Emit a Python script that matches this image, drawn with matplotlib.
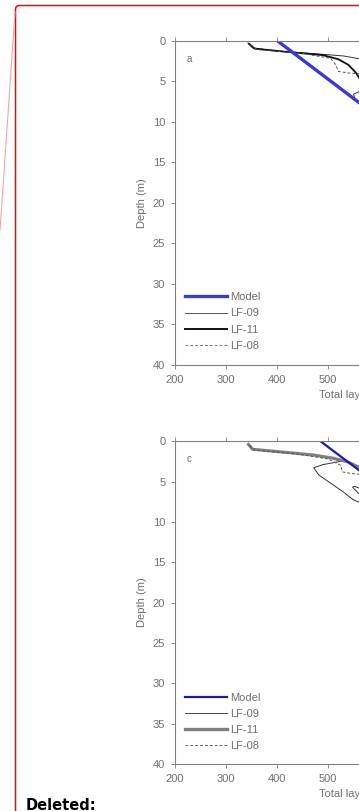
import matplotlib.pyplot as plt
from matplotlib.patches import FancyBboxPatch
from matplotlib.lines import Line2D
from matplotlib.transforms import IdentityTransform

plt.rcParams['font.family'] = ['Liberation Sans', 'DejaVu Sans']

# depth axis shared by both panels
depth_ticks = [0, 5, 10, 15, 20, 25, 30, 35, 40]
x_ticks = [200, 300, 400, 500, 600, 700, 800, 900, 1000]

# model profiles (straight lines, depth 0 -> 40 m)
model_depth = [0, 40]
model_a = [400, 1240]
model_c = [485, 1325]

# panel a measured profiles
lf09_a_depth = [0.3, 0.9, 1.3, 1.6, 1.9, 2.4, 3.2, 4.5, 5.8, 6.6, 7.2, 8.0, 9.5, 12]
lf09_a = [343, 352, 400, 470, 530, 575, 610, 630, 580, 550, 552, 570, 620, 680]
lf11_a_depth = [0.4, 1.0, 1.4, 1.8, 2.3, 3.0, 4.0, 5.0, 6.5, 8, 10, 12]
lf11_a = [345, 356, 420, 490, 520, 540, 555, 565, 600, 640, 690, 740]
lf08_a_depth = [0.5, 1.1, 1.6, 2.2, 3.0, 3.8, 4.0, 4.2, 5.5, 7, 9, 12]
lf08_a = [348, 360, 450, 505, 515, 520, 540, 580, 620, 660, 700, 760]

# panel c measured profiles
lf09_c_depth = [0.4, 1.0, 1.3, 1.6, 2.0, 2.5, 2.9, 3.3, 4.2, 5.2, 6.3, 7.2, 7.7,
                7.8, 7.4, 6.6, 5.9, 5.6, 5.7, 6.5, 8, 10, 12]
lf09_c = [343, 350, 390, 450, 500, 525, 490, 472, 482, 505, 530, 548, 565,
          590, 600, 585, 565, 552, 548, 560, 620, 680, 740]
lf11_c_depth = [0.4, 1.0, 1.4, 1.7, 2.1, 2.6, 3.2, 4.0, 5.0, 6.5, 8, 10, 12]
lf11_c = [344, 352, 420, 470, 510, 540, 560, 580, 600, 630, 670, 720, 770]
lf08_c_depth = [0.5, 1.1, 1.6, 2.2, 3.0, 3.8, 4.0, 4.2, 5.5, 7, 9, 12]
lf08_c = [346, 356, 440, 500, 525, 528, 545, 580, 620, 660, 700, 760]

GRAY = '#808080'

fig = plt.figure(figsize=(3.59, 8.11), dpi=100)


def style_axes(ax, letter):
    ax.set_xlim(200, 1000)
    ax.set_ylim(40, 0)
    ax.set_xticks(x_ticks)
    ax.set_yticks(depth_ticks)
    for s in ax.spines.values():
        s.set_color(GRAY)
        s.set_linewidth(0.8)
    ax.tick_params(direction='out', length=3, width=0.6, color=GRAY,
                   labelcolor='#707070', labelsize=8, pad=4, top=True)
    ax.set_ylabel('Depth (m)', color='#707070', fontsize=8, labelpad=4)
    ax.set_xlabel('Total layer thickness (m)', color='#707070', fontsize=8, labelpad=4)
    ax.text(0.034, 0.944, letter, transform=ax.transAxes, fontsize=7,
            color='#707070', ha='center', va='center')


# panel a
ax_a = fig.add_axes([0.4875, 0.550, 1.137, 0.400])
ax_a.plot(lf09_a, lf09_a_depth, color='#333333', lw=0.7, label='LF-09')
ax_a.plot(lf11_a, lf11_a_depth, color='#111111', lw=1.3, label='LF-11')
ax_a.plot(lf08_a, lf08_a_depth, color='#555555', lw=0.7, ls=(0, (3, 2)), label='LF-08')
ax_a.plot(model_a, model_depth, color='#3a3ad0', lw=2.4, label='Model')
style_axes(ax_a, 'a')
handles_a = [Line2D([], [], color='#3a3ad0', lw=2.4),
             Line2D([], [], color='#555555', lw=0.7),
             Line2D([], [], color='#111111', lw=1.4),
             Line2D([], [], color='#777777', lw=0.7, ls=(0, (3, 2)))]
ax_a.legend(handles_a, ['Model', 'LF-09', 'LF-11', 'LF-08'], loc='upper left',
            bbox_to_anchor=(0.0245, 0.224), frameon=False, borderpad=0,
            borderaxespad=0, handlelength=3.8, handletextpad=0.3,
            labelspacing=0.55, fontsize=8, labelcolor='#707070')

# panel c
ax_c = fig.add_axes([0.4875, 0.058, 1.137, 0.398])
ax_c.plot(lf09_c, lf09_c_depth, color='#333333', lw=0.7, label='LF-09')
ax_c.plot(lf11_c, lf11_c_depth, color='#808080', lw=2.2, label='LF-11')
ax_c.plot(lf08_c, lf08_c_depth, color='#555555', lw=0.7, ls=(0, (3, 2)), label='LF-08')
ax_c.plot(model_c, model_depth, color='#1c1ca8', lw=1.6, label='Model')
style_axes(ax_c, 'c')
handles_c = [Line2D([], [], color='#1c1ca8', lw=1.6),
             Line2D([], [], color='#444444', lw=0.7),
             Line2D([], [], color='#808080', lw=2.4),
             Line2D([], [], color='#666666', lw=0.7, ls=(0, (3, 2)))]
ax_c.legend(handles_c, ['Model', 'LF-09', 'LF-11', 'LF-08'], loc='upper left',
            bbox_to_anchor=(0.0245, 0.221), frameon=False, borderpad=0,
            borderaxespad=0, handlelength=3.8, handletextpad=0.3,
            labelspacing=0.55, fontsize=8, labelcolor='#707070')

# red balloon border with its connector, in pixel coordinates
box = FancyBboxPatch((15.5, -100), 600, 905.5, boxstyle='round,pad=0,rounding_size=4',
                     transform=IdentityTransform(), facecolor='none',
                     edgecolor='#ff0000', lw=1.1)
fig.add_artist(box)
fig.add_artist(Line2D([0, 15], [581, 799], transform=IdentityTransform(),
                      color='#f5a5a5', lw=0.8))

fig.text(26 / 359, 13 / 811, 'Deleted:', va='top', ha='left', fontsize=10.5,
         fontweight='bold', family='DejaVu Sans', color='black')

fig.savefig('out.png', dpi=100)
